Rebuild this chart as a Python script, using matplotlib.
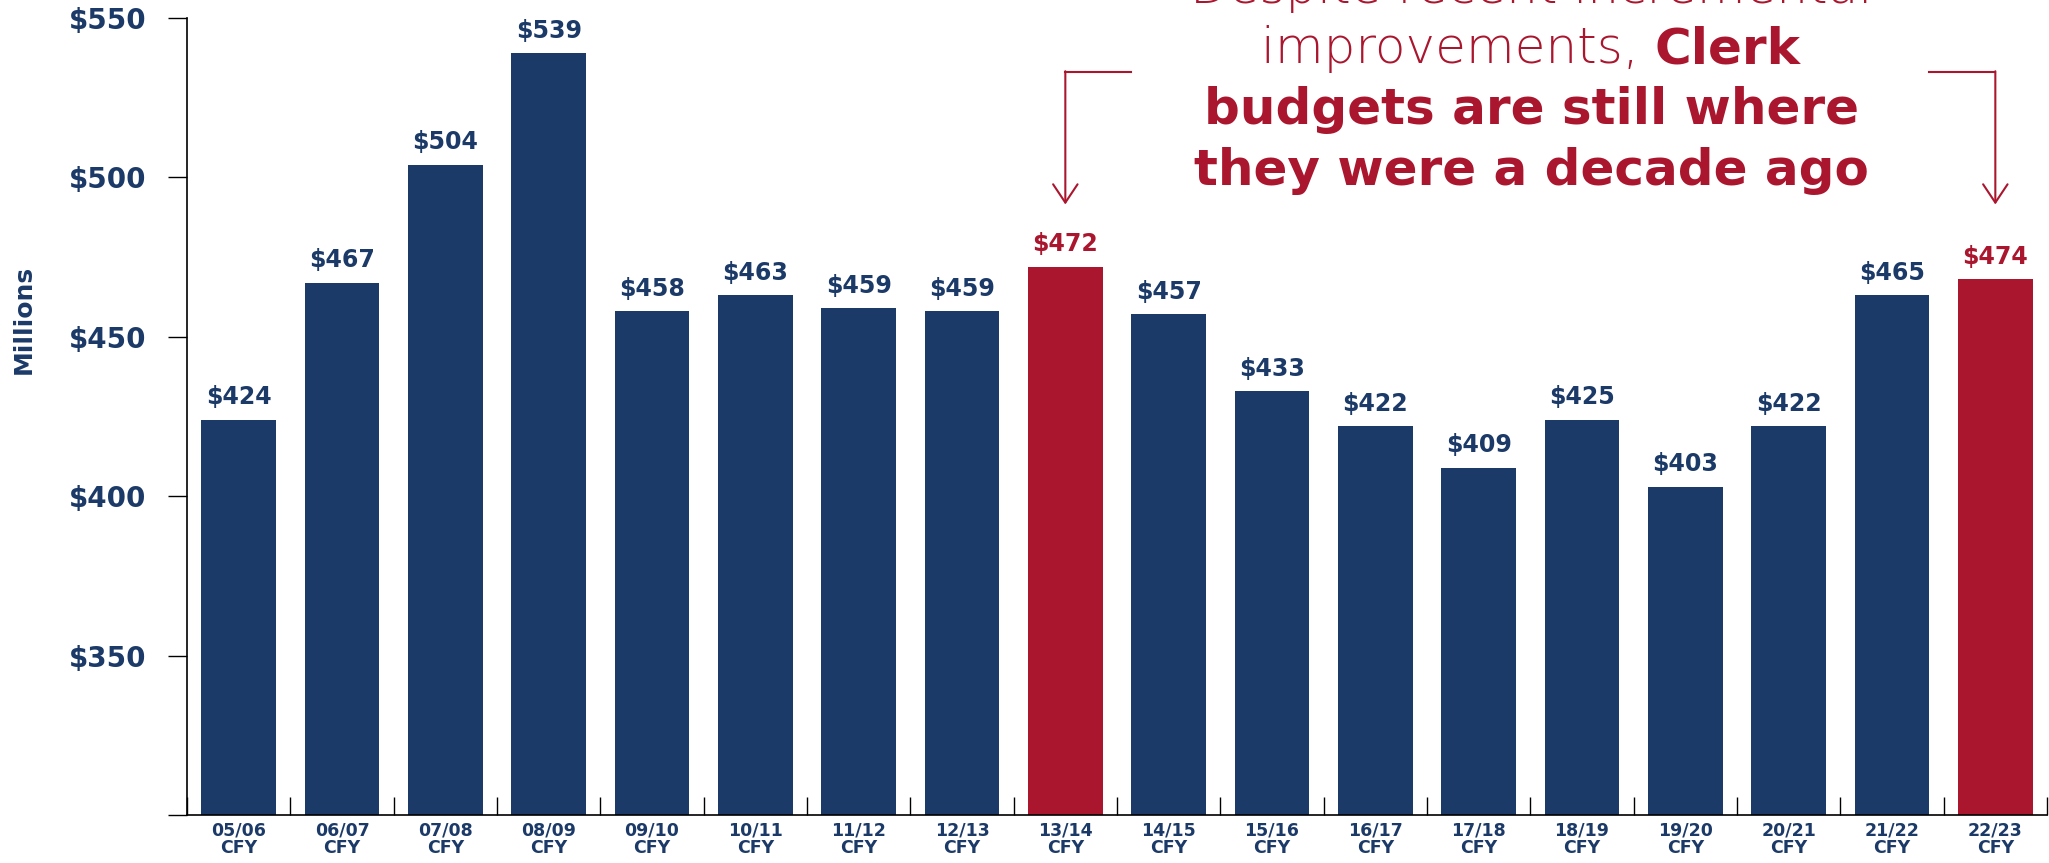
import matplotlib.pyplot as plt
import numpy as np

years = ["05/06", "06/07", "07/08", "08/09", "09/10", "10/11", "11/12", "12/13", "13/14",
         "14/15", "15/16", "16/17", "17/18", "18/19", "19/20", "20/21", "21/22", "22/23"]
budgets = [424, 467, 504, 539, 458, 463, 459, 458, 472,
           457, 433, 422, 409, 424, 403, 422, 463, 468]
barLabels = ["$424", "$467", "$504", "$539", "$458", "$463", "$459", "$459", "$472",
             "$457", "$433", "$422", "$409", "$425", "$403", "$422", "$465", "$474"]
highlight = ["13/14", "22/23"]
yTicks = [300, 350, 400, 450, 500, 550]
yTickLabels = ["", "$350", "$400", "$450", "$500", "$550"]

navy = "#1c3a68"
red = "#aa162e"

fig = plt.figure(figsize=(20.49, 8.63), dpi=100)
ax = fig.add_axes([187 / 2049, 1 - 815 / 863, 1860 / 2049, 797 / 863])

x = np.arange(len(years))
colors = [red if y in highlight else navy for y in years]
ax.bar(x, budgets, width=0.72, color=colors)

for xi, h, lab, c in zip(x, budgets, barLabels, colors):
    ax.annotate(lab, (xi, h), xytext=(0, 11), textcoords="offset points",
                ha="center", va="baseline", fontsize=17, fontweight="bold", color=c)

ax.set_xlim(-0.5, len(years) - 0.5)
ax.set_ylim(300, 550)
ax.set_yticks(yTicks)
ax.set_yticklabels(yTickLabels, fontsize=20, fontweight="bold", color=navy)
ax.set_xticks(x)
ax.set_xticklabels([y + "\nCFY" for y in years], fontsize=12.5, fontweight="bold",
                   color=navy, linespacing=0.9)
ax.set_xticks(np.arange(len(years) + 1) - 0.5, minor=True)
ax.tick_params(axis="x", which="major", length=0, pad=5)
ax.tick_params(axis="x", which="minor", direction="in", length=13, width=1)
ax.tick_params(axis="y", direction="out", length=14, width=1, pad=15)

for s in ["top", "right"]:
    ax.spines[s].set_visible(False)
ax.spines["left"].set_linewidth(1.2)
ax.spines["bottom"].set_linewidth(1.2)

fig.text(24 / 2049, 1 - 319 / 863, "Millions", rotation=90, ha="center", va="center",
         fontsize=18, fontweight="bold", color=navy)

# bracket arrows
for xa, xb in [(8, 8.64), (17, 16.36)]:
    ax.plot([xa, xb], [533, 533], color=red, lw=1.5, clip_on=False)
    ax.annotate("", xy=(xa, 491.5), xytext=(xa, 533.3),
                arrowprops=dict(arrowstyle="->,head_length=0.6,head_width=0.4",
                                color=red, lw=1.5, mutation_scale=22, shrinkA=0, shrinkB=0))

# callout text
cx = 1531 / 2049
fs = 36
fig.text(cx, 1 - 3 / 863, "Despite recent incremental", ha="center", va="baseline",
         fontsize=fs, fontweight=200, color=red)
t1 = fig.text(cx, 1 - 63 / 863, "improvements, ", ha="left", va="baseline",
              fontsize=fs, fontweight=200, color=red)
t2 = fig.text(cx, 1 - 63 / 863, "Clerk", ha="left", va="baseline",
              fontsize=fs, fontweight="heavy", color=red)
fig.text(cx, 1 - 124 / 863, "budgets are still where", ha="center", va="baseline",
         fontsize=fs, fontweight="heavy", color=red)
fig.text(cx, 1 - 185 / 863, "they were a decade ago", ha="center", va="baseline",
         fontsize=fs, fontweight="heavy", color=red)

fig.canvas.draw()
r = fig.canvas.get_renderer()
w1 = t1.get_window_extent(r).width
w2 = t2.get_window_extent(r).width
start = cx * fig.bbox.width - (w1 + w2) / 2
t1.set_x(start / fig.bbox.width)
t2.set_x((start + w1) / fig.bbox.width)

fig.savefig("out.png", dpi=100)
